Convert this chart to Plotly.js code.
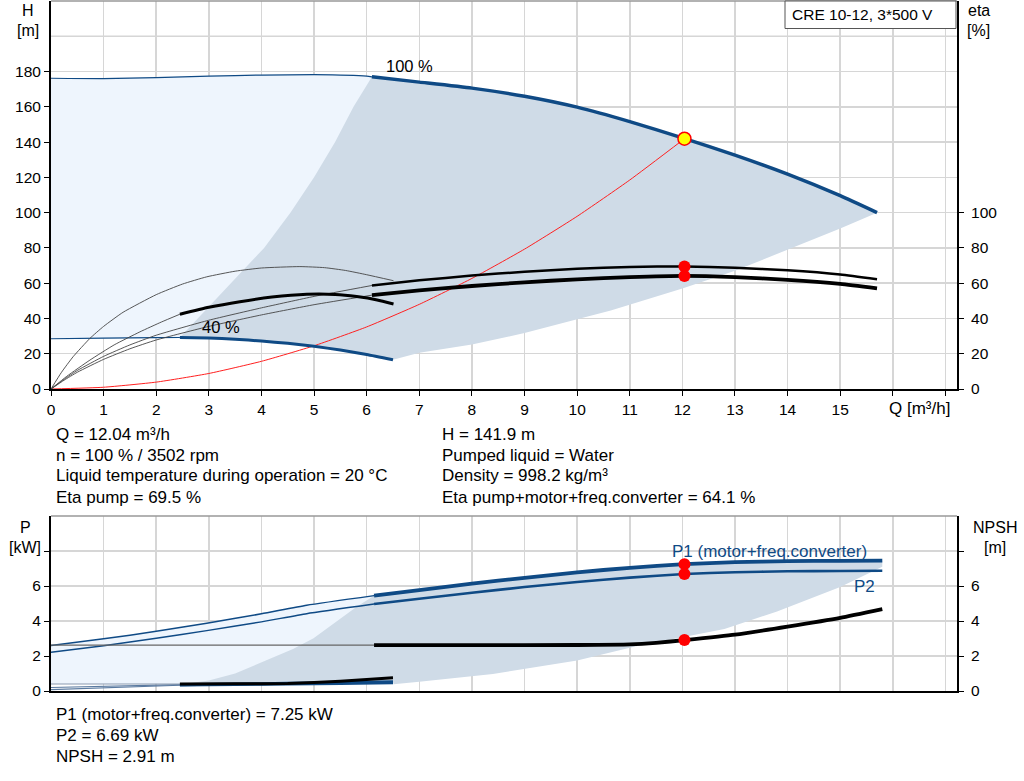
<!DOCTYPE html>
<html><head><meta charset="utf-8">
<script src="https://cdn.plot.ly/plotly-3.0.1.min.js"></script>
<style>html,body{margin:0;padding:0;background:#fff;}#chart{width:1024px;height:781px;}</style>
</head><body><div id="chart"></div>
<script>
// ---------- DATA ----------
// Head 100 % speed
const qH100Thin = [0, 1, 2, 3, 4, 5, 6, 6.1];
const h100Thin  = [176.2, 176.0, 176.6, 177.4, 178.0, 178.2, 177.4, 177];
const qH100     = [6.1, 7, 8, 9, 10, 11, 12, 13, 14, 15, 15.7];
const h100      = [177, 174, 170.6, 166, 159.8, 151.6, 142.4, 132.6, 121.8, 109.6, 100];
// Head 40 % speed
const qH40Thin = [0, 1, 2, 2.45];
const h40Thin  = [28.5, 28.8, 29.1, 29.2];
const qH40     = [2.45, 3, 3.5, 4, 4.5, 5, 5.5, 6, 6.5];
const h40      = [29.2, 28.9, 28.2, 27.2, 25.9, 24.2, 22.1, 19.6, 16.6];
// Operating range boundaries (top chart)
const qRangeLeft = [2.45, 2.6, 2.8, 3.3, 4.05, 4.55, 5.0, 5.4, 5.75, 6.1];
const hRangeLeft = [29.2, 34, 40, 56, 80, 100, 120, 140, 160, 177];
const qRangeLow  = [6.5, 7, 7.6, 8, 9, 10, 10.64, 12, 13, 14, 15, 15.7];
const hRangeLow  = [16.6, 20.5, 23.5, 25.3, 31.7, 39.5, 44.5, 57, 67, 79, 91, 100];
// System curve
const qSys = [0, 1, 2, 3, 4, 5, 6, 7, 8, 9, 10, 11, 12.04];
const hSys = [0, 1, 3.9, 8.8, 15.7, 24.5, 35.2, 48, 62.7, 79.3, 97.9, 118.5, 141.9];
// Efficiency 100 %
const qEtaThin   = [0, 0.25, 0.5, 1, 1.5, 2, 3, 4, 5, 6.1];
const etaPThin   = [0, 5.5, 10.5, 18.5, 25, 30.5, 39, 46, 52.5, 58.7];
const etaTThin   = [0, 5, 9.5, 16.8, 22.8, 27.8, 35.5, 42, 47.8, 53.2];
const qEta       = [6.1, 7, 8, 9, 10, 11, 12.04, 13, 14, 15, 15.7];
const etaPump    = [58.7, 61.6, 64.3, 66.5, 68.2, 69.2, 69.5, 68.8, 67.3, 64.9, 62.2];
const etaTotal   = [53.2, 55.9, 58.4, 60.5, 62.2, 63.4, 64.1, 63.4, 61.9, 59.6, 57.1];
// Efficiency 40 %
const qEtaP40  = [0, 0.2, 0.42, 0.74, 1.0, 1.37, 2.0, 2.5, 2.96, 3.5, 4, 4.73, 5.2, 5.6, 6.0, 6.51];
const etaP40   = [0, 9.5, 18.3, 28.7, 35.5, 43.5, 53.5, 59.5, 63.6, 66.8, 68.6, 69.4, 68.8, 67.2, 64.8, 61.4];
const qEtaT40Thin = [0, 0.3, 0.74, 1.2, 1.69, 2.1, 2.45];
const etaT40Thin  = [0, 7.2, 16.4, 25, 32.4, 38, 42.4];
const qEtaT40  = [2.45, 3, 3.59, 4.2, 4.86, 5.4, 5.81, 6.2, 6.51];
const etaT40   = [42.4, 46.3, 49.5, 52.1, 53.7, 53.6, 52.4, 50.5, 48.2];
// Power / NPSH 100 %
const qPThin  = [0, 1, 2, 2.96, 4, 4.86, 6.14];
const p1Thin  = [2.6, 2.98, 3.41, 3.87, 4.41, 4.9, 5.45];
const p2Thin  = [2.21, 2.59, 3.01, 3.45, 3.95, 4.42, 4.97];
const qP      = [6.14, 7, 8, 9, 10, 11, 12.04, 13, 14, 15, 15.8];
const p1      = [5.45, 5.77, 6.13, 6.47, 6.78, 7.04, 7.25, 7.36, 7.42, 7.44, 7.45];
const p2      = [4.97, 5.27, 5.61, 5.94, 6.23, 6.48, 6.69, 6.79, 6.84, 6.86, 6.87];
const qNpshThin = [0, 6.14];
const npshThin  = [2.62, 2.62];
const qNpsh   = [6.14, 8, 10, 11, 11.5, 12.04, 13, 14, 15, 15.8];
const npsh    = [2.62, 2.62, 2.63, 2.66, 2.75, 2.91, 3.22, 3.68, 4.18, 4.68];
// Power / NPSH 40 %
const q40Thin   = [0, 2.45];
const npsh40Thin= [0.40, 0.40];
const p140Thin  = [0.2, 0.36];
const p240Thin  = [0.08, 0.33];
const q40       = [2.45, 3.5, 4.5, 5.5, 6.5];
const npsh40    = [0.40, 0.41, 0.43, 0.56, 0.76];
const p140      = [0.36, 0.40, 0.44, 0.48, 0.53];
const p240      = [0.33, 0.36, 0.39, 0.42, 0.46];
// Operating range boundaries (bottom chart)
const qPRangeLeft = [2.45, 3, 3.5, 4.1, 4.6, 4.99, 5.4, 5.81, 6.14];
const pRangeLeft  = [0.37, 0.6, 1.0, 1.77, 2.4, 3.01, 3.9, 4.82, 5.45];
const qPRangeLow  = [6.51, 7.0, 8.4, 10, 11.1, 12.8, 13.8, 15, 15.8];
const pRangeLow   = [0.38, 0.53, 0.97, 1.75, 2.55, 3.55, 4.55, 5.95, 7.1];
// Duty point
const dutyQ = 12.04, dutyH = 141.9, dutyEtaP = 69.5, dutyEtaT = 64.1;
const dutyP1 = 7.25, dutyP2 = 6.69, dutyNpsh = 2.91;
// Tick labels
const xTickVals = [0,1,2,3,4,5,6,7,8,9,10,11,12,13,14,15,16,17];
const xTickText = ['0','1','2','3','4','5','6','7','8','9','10','11','12','13','14','15','',''];
const hTickVals = [0,20,40,60,80,100,120,140,160,180];
const etaTickVals = [0,20,40,60,80,100];
const pTickVals = [0,2,4,6,8];
const pTickText = ['0','2','4','6',''];

// ---------- STYLE ----------
const BLUE = '#0f4a85', LIGHT = '#eef5fd', GRAY = '#cfdbe7', FONT = 'Liberation Sans, Arial, sans-serif';
const rev = a => a.slice().reverse();
function ln(x, y, color, width, xa, ya) {
  return {x, y, type:'scatter', mode:'lines', xaxis:xa, yaxis:ya,
    line:{color, width, shape:'spline', smoothing:0.5}, hoverinfo:'skip', showlegend:false};
}
function poly(x, y, color, xa, ya) {
  return {x, y, type:'scatter', mode:'lines', fill:'toself', fillcolor:color, line:{width:0, color:color},
    xaxis:xa, yaxis:ya, hoverinfo:'skip', showlegend:false};
}
const traces = [
  // top fills
  poly(qH100Thin.concat([6.5], rev(qH40), rev(qH40Thin)), h100Thin.concat([16.6], rev(h40), rev(h40Thin)), LIGHT, 'x', 'y'),
  poly(qRangeLeft.concat(qH100, rev(qRangeLow), rev(qH40)), hRangeLeft.concat(h100, rev(hRangeLow), rev(h40)), GRAY, 'x', 'y'),
  // bottom fills
  poly(qPThin.concat([6.5], rev(q40), rev(q40Thin)), p1Thin.concat([0.4], rev(npsh40), rev(npsh40Thin)), LIGHT, 'x2', 'y3'),
  poly(qPRangeLeft.concat(qP, rev(qPRangeLow), rev(q40)), pRangeLeft.concat(p1, rev(pRangeLow), rev(p140)), GRAY, 'x2', 'y3'),
  // system curve
  ln(qSys, hSys, '#ff2020', 1, 'x', 'y'),
  // thin curves top
  ln(qEtaP40, etaP40, '#444', 0.9, 'x', 'y2'),
  ln(qEtaT40Thin, etaT40Thin, '#444', 0.9, 'x', 'y2'),
  ln(qEtaThin, etaPThin, '#444', 0.9, 'x', 'y2'),
  ln(qEtaThin, etaTThin, '#444', 0.9, 'x', 'y2'),
  ln(qH100Thin, h100Thin, BLUE, 1.2, 'x', 'y'),
  ln(qH40Thin, h40Thin, BLUE, 1.2, 'x', 'y'),
  // thick curves top
  ln(qH100, h100, BLUE, 3.5, 'x', 'y'),
  ln(qH40, h40, BLUE, 3, 'x', 'y'),
  ln(qEtaT40, etaT40, '#000', 3, 'x', 'y2'),
  ln(qEta, etaPump, '#000', 2.5, 'x', 'y2'),
  ln(qEta, etaTotal, '#000', 3.8, 'x', 'y2'),
  // bottom thin
  ln(qPThin, p1Thin, BLUE, 1.5, 'x2', 'y3'),
  ln(qPThin, p2Thin, BLUE, 1.5, 'x2', 'y3'),
  ln(qNpshThin, npshThin, '#666', 1.3, 'x2', 'y4'),
  ln(q40Thin, npsh40Thin, '#8a9ab0', 1.2, 'x2', 'y4'),
  ln(q40Thin, p140Thin, '#5a7aa0', 1.2, 'x2', 'y3'),
  ln(q40Thin, p240Thin, '#5a7aa0', 1.2, 'x2', 'y3'),
  // bottom thick
  ln(q40, p140, BLUE, 3, 'x2', 'y3'),
  ln(q40, p240, BLUE, 2.5, 'x2', 'y3'),
  ln(q40, npsh40, '#000', 3, 'x2', 'y4'),
  ln(qP, p1, BLUE, 3.8, 'x2', 'y3'),
  ln(qP, p2, BLUE, 2.6, 'x2', 'y3'),
  ln(qNpsh, npsh, '#000', 3.8, 'x2', 'y4'),
  // markers
  {x:[dutyQ, dutyQ], y:[dutyEtaP, dutyEtaT], type:'scatter', mode:'markers', xaxis:'x', yaxis:'y2',
   marker:{color:'#ff0000', size:12}, hoverinfo:'skip', showlegend:false},
  {x:[dutyQ], y:[dutyH], type:'scatter', mode:'markers', xaxis:'x', yaxis:'y',
   marker:{color:'#ffff00', size:13, line:{color:'#ff0000', width:1.5}}, hoverinfo:'skip', showlegend:false},
  {x:[dutyQ, dutyQ], y:[dutyP1, dutyP2], type:'scatter', mode:'markers', xaxis:'x2', yaxis:'y3',
   marker:{color:'#ff0000', size:12}, hoverinfo:'skip', showlegend:false},
  {x:[dutyQ], y:[dutyNpsh], type:'scatter', mode:'markers', xaxis:'x2', yaxis:'y4',
   marker:{color:'#ff0000', size:12}, hoverinfo:'skip', showlegend:false}
];

// ---------- LAYOUT ----------
const L = 51, R = 957, T = 1, B = 691;
const px = v => (v - L) / (R - L);
const py = v => (B - v) / (B - T);
const GRID = '#d6d6d6';
const tf = {family:FONT, size:15.5, color:'#000'};
const common = {showline:true, linecolor:'#000', linewidth:2, zeroline:false, ticks:'outside', ticklen:5,
  tickwidth:1, tickcolor:'#000', tickfont:tf, gridcolor:GRID, gridwidth:1.5};
function txt(x, y, text, anchor, size, color) {
  return {xref:'paper', yref:'paper', x:px(x), y:py(y), text, showarrow:false, xanchor:anchor||'left',
    yanchor:'middle', font:{family:FONT, size:size||17, color:color||'#000'}};
}
const layout = {
  width:1024, height:781, margin:{l:L, r:1024-R, t:T, b:781-B}, paper_bgcolor:'#fff', plot_bgcolor:'#fff',
  showlegend:false, hovermode:false, font:{family:FONT, size:15, color:'#000'},
  xaxis: Object.assign({}, common, {domain:[0,1], range:[0,17.22], anchor:'y', tickvals:xTickVals, ticktext:xTickText}),
  yaxis: Object.assign({}, common, {domain:[py(389),1], range:[0,220], anchor:'x', tickvals:hTickVals}),
  yaxis2: Object.assign({}, common, {overlaying:'y', side:'right', anchor:'x', range:[0,220], tickvals:etaTickVals,
    showgrid:false, ticklabelstandoff:4}),
  xaxis2: Object.assign({}, common, {domain:[0,1], range:[0,17.22], anchor:'y3', tickvals:xTickVals,
    showticklabels:false, ticks:''}),
  yaxis3: Object.assign({}, common, {domain:[0,py(516)], range:[0,10], anchor:'x2', tickvals:pTickVals, ticktext:pTickText}),
  yaxis4: Object.assign({}, common, {overlaying:'y3', side:'right', anchor:'x2', range:[0,10], tickvals:pTickVals,
    ticktext:pTickText, showgrid:false, ticklabelstandoff:4}),
  shapes: [
    {type:'line', xref:'paper', yref:'y', x0:0, x1:1, y0:200, y1:200, line:{color:GRID, width:1.5}, layer:'below'},
    {type:'line', xref:'paper', yref:'paper', x0:0, x1:1, y0:1, y1:1, line:{color:'#999', width:1.5}},
    {type:'line', xref:'paper', yref:'paper', x0:0, x1:1, y0:py(516), y1:py(516), line:{color:'#999', width:1.5}},
    {type:'rect', xref:'paper', yref:'paper', x0:px(785), x1:px(956), y0:py(28.5), y1:1,
     line:{color:'#555', width:1}, fillcolor:'#fff'}
  ],
  annotations: [
    txt(790, 15, 'CRE 10-12, 3*500 V', 'left', 15.5),
    txt(28, 10, 'H', 'center', 16), txt(28, 30, '[m]', 'center', 16),
    txt(979, 10, 'eta', 'center', 16), txt(979, 30, '[%]', 'center', 16),
    txt(25, 527, 'P', 'center', 16), txt(25, 547, '[kW]', 'center', 16),
    txt(995, 527, 'NPSH', 'center', 16), txt(995, 547, '[m]', 'center', 16),
    {xref:'x', yref:'paper', x:16, xshift:-6, y:py(408), text:'Q [m³/h]', showarrow:false, xanchor:'left', yanchor:'middle', font:{family:FONT, size:17, color:'#000'}},
    {xref:'x', yref:'y', x:6.33, y:183, text:'100 %', showarrow:false, xanchor:'left', yanchor:'middle', font:{family:FONT, size:16.5, color:'#000'}},
    {xref:'x', yref:'y', x:2.83, y:35.3, text:'40 %', showarrow:false, xanchor:'left', yanchor:'middle', font:{family:FONT, size:16.5, color:'#000'}},
    {xref:'x2', yref:'y3', x:11.77, y:7.96, text:'P1 (motor+freq.converter)', showarrow:false, xanchor:'left', yanchor:'middle', font:{family:FONT, size:17, color:BLUE}},
    {xref:'x2', yref:'y3', x:15.23, y:5.97, text:'P2', showarrow:false, xanchor:'left', yanchor:'middle', font:{family:FONT, size:17, color:BLUE}},
    txt(54, 434, 'Q = 12.04 m³/h'),
    txt(54, 455, 'n = 100 % / 3502 rpm'),
    txt(54, 476, 'Liquid temperature during operation = 20 °C'),
    txt(54, 497, 'Eta pump = 69.5 %'),
    txt(440, 434, 'H = 141.9 m'),
    txt(440, 455, 'Pumped liquid = Water'),
    txt(440, 476, 'Density = 998.2 kg/m³'),
    txt(440, 497, 'Eta pump+motor+freq.converter = 64.1 %'),
    txt(54, 714, 'P1 (motor+freq.converter) = 7.25 kW'),
    txt(54, 735, 'P2 = 6.69 kW'),
    txt(54, 756, 'NPSH = 2.91 m')
  ]
};
Plotly.newPlot('chart', traces, layout, {staticPlot:true, displayModeBar:false});
</script>
</body></html>
